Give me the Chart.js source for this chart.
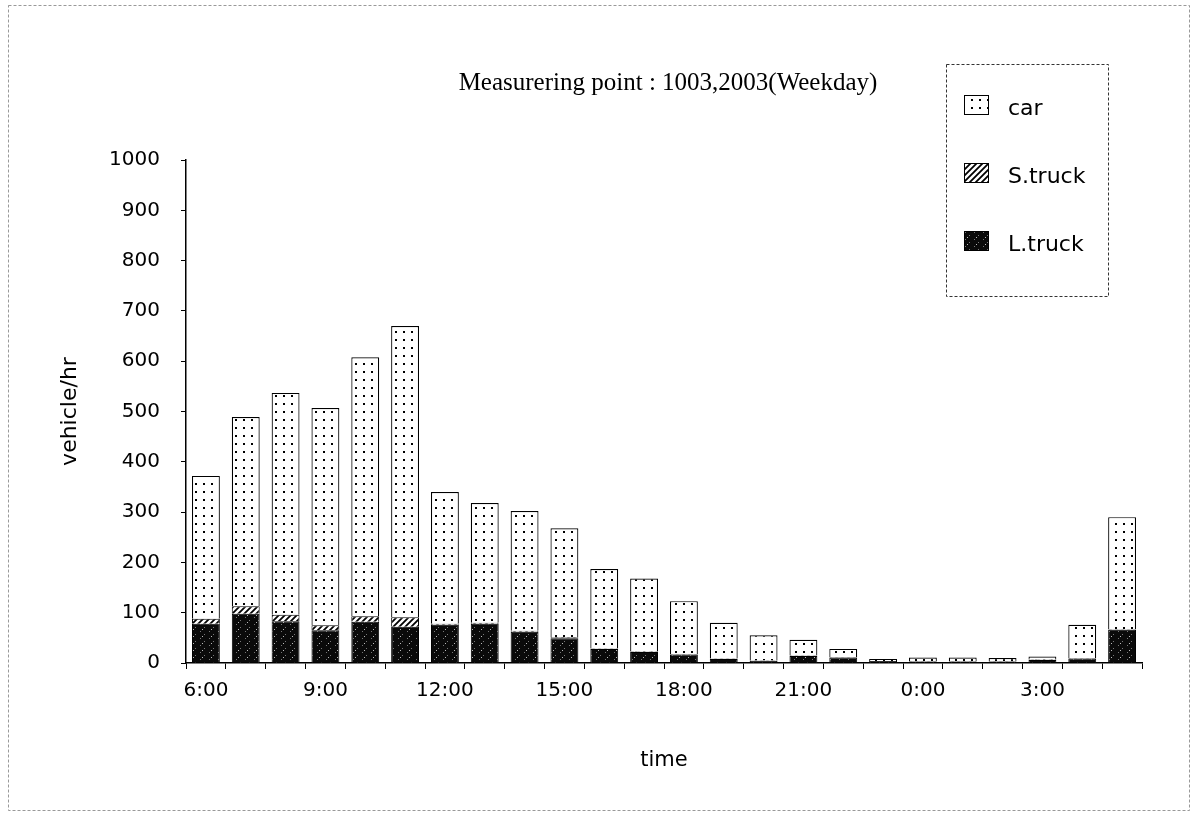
<!DOCTYPE html>
<html><head><meta charset="utf-8">
<script src="https://cdn.jsdelivr.net/npm/chart.js@4.4.0/dist/chart.umd.min.js"></script>
<style>html,body{margin:0;padding:0;background:#fff;overflow:hidden}canvas{display:block}</style>
</head><body><canvas id="c" width="1195" height="817"></canvas>
<script>
// ---- data ----
const hours = ['6:00','7:00','8:00','9:00','10:00','11:00','12:00','13:00','14:00','15:00','16:00','17:00',
               '18:00','19:00','20:00','21:00','22:00','23:00','0:00','1:00','2:00','3:00','4:00','5:00'];
const shownTicks = ['6:00','9:00','12:00','15:00','18:00','21:00','0:00','3:00'];
const lTruck = [78, 98, 83, 65, 82, 72, 76, 78, 62, 49, 28, 22, 17, 8, 4, 14, 11, 4, 3, 3, 3, 6, 9, 66];
const sTruck = [10, 15, 13, 10, 11, 19, 2, 2, 2, 2, 1, 1, 1, 1, 1, 1, 1, 0, 1, 1, 1, 1, 1, 1];
const car    = [284, 376, 441, 432, 515, 579, 262, 238, 238, 217, 158, 145, 105, 71, 50, 31, 16, 4, 7, 7, 6, 6, 66, 223];
const seriesNames = ['car', 'S.truck', 'L.truck'];
const chartTitle = 'Measurering point : 1003,2003(Weekday)';
const yTitle = 'vehicle/hr';
const xTitle = 'time';

// ---- patterns ----
function makeTile(w, h, draw) {
  const c = document.createElement('canvas'); c.width = w; c.height = h;
  const g = c.getContext('2d'); draw(g, w, h);
  return document.createElement('canvas').getContext('2d').createPattern(c, 'repeat');
}
const dotPat = makeTile(8, 8, (g) => { g.fillStyle = '#fff'; g.fillRect(0,0,8,8); g.fillStyle = '#000'; g.fillRect(3,3,2,2); });
const hatchPat = makeTile(6, 6, (g) => {
  g.fillStyle = '#fff'; g.fillRect(0,0,6,6); g.strokeStyle = '#000'; g.lineWidth = 1.8;
  g.beginPath(); g.moveTo(-1,7); g.lineTo(7,-1); g.moveTo(-4,4); g.lineTo(4,-4); g.moveTo(2,10); g.lineTo(10,2); g.stroke();
});
const darkPat = makeTile(9, 7, (g) => {
  g.fillStyle = '#0a0a0a'; g.fillRect(0,0,9,7);
  g.fillStyle = '#777'; g.fillRect(2,1,1,1); g.fillRect(6,4,1,1);
  g.fillStyle = '#bbb'; g.fillRect(4,6,1,1);
});
const fills = [dotPat, hatchPat, darkPat];

const FONT = '"DejaVu Sans", sans-serif';

const decor = {
  id: 'decor',
  beforeDraw(chart) {
    const ctx = chart.ctx;
    ctx.save(); ctx.fillStyle = '#fff'; ctx.fillRect(0, 0, chart.width, chart.height); ctx.restore();
  },
  afterDraw(chart) {
    const ctx = chart.ctx, a = chart.chartArea;
    ctx.save();
    // outer frame
    ctx.strokeStyle = '#999'; ctx.lineWidth = 1; ctx.setLineDash([3, 2]);
    ctx.strokeRect(8.5, 5.5, 1181, 805);
    // title
    ctx.setLineDash([]);
    ctx.fillStyle = '#000'; ctx.font = '25px "Liberation Serif", serif';
    ctx.textAlign = 'center'; ctx.textBaseline = 'middle';
    ctx.fillText(chartTitle, (a.left + a.right) / 2 + 4, 83);
    // legend box
    ctx.strokeStyle = '#333'; ctx.setLineDash([3, 2]);
    ctx.strokeRect(946.5, 64.5, 162, 232);
    ctx.setLineDash([]);
    const ds = chart.data.datasets;
    const order = ['car', 'S.truck', 'L.truck'];
    const ys = [109, 177, 245];
    ctx.font = '22px ' + FONT; ctx.textAlign = 'left';
    order.forEach((name, i) => {
      const d = ds.find(x => x.label === name);
      const y = ys[i];
      ctx.fillStyle = d.backgroundColor;
      ctx.fillRect(964, y - 14, 25, 20);
      ctx.strokeStyle = '#000'; ctx.lineWidth = 1;
      ctx.strokeRect(964.5, y - 13.5, 24, 19);
      ctx.fillStyle = '#000';
      ctx.fillText(name, 1008, y);
    });
    ctx.restore();
  }
};

new Chart(document.getElementById('c'), {
  type: 'bar',
  data: {
    labels: hours,
    datasets: [
      { label: seriesNames[2], data: lTruck, backgroundColor: fills[2], borderColor: '#000', borderWidth: 1 },
      { label: seriesNames[1], data: sTruck, backgroundColor: fills[1], borderColor: '#000', borderWidth: 1 },
      { label: seriesNames[0], data: car, backgroundColor: fills[0], borderColor: '#000', borderWidth: 1.2 }
    ]
  },
  options: {
    responsive: false, animation: false, events: [],
    layout: { padding: { left: 0, right: 53, top: 160, bottom: 0 } },
    datasets: { bar: { categoryPercentage: 1, barPercentage: 0.7 } },
    plugins: { legend: { display: false }, tooltip: { enabled: false }, title: { display: false } },
    scales: {
      x: {
        stacked: true,
        afterFit: (s) => { s.height = 154; },
        grid: { drawOnChartArea: false, drawTicks: true, tickLength: 6, color: '#000', offset: true },
        border: { display: true, color: '#000', width: 1.5 },
        ticks: {
          autoSkip: false, maxRotation: 0, minRotation: 0, padding: 10, color: '#000',
          font: { family: FONT, size: 20 },
          callback: (v, i) => shownTicks.includes(hours[i]) ? hours[i] : ''
        },
        title: { display: true, text: xTitle, color: '#000', font: { family: FONT, size: 21 }, padding: { top: 0, bottom: 44 } }
      },
      y: {
        stacked: true, min: 0, max: 1000,
        afterFit: (s) => { s.width = 186; },
        grid: { drawOnChartArea: false, drawTicks: true, tickLength: 5, color: '#000' },
        border: { display: true, color: '#000', width: 1.5 },
        ticks: { stepSize: 100, padding: 21, color: '#000', font: { family: FONT, size: 20 },
                 callback: (v) => String(v) },
        title: { display: true, text: yTitle, color: '#000', font: { family: FONT, size: 22 }, padding: { top: 57, bottom: 0 } }
      }
    }
  },
  plugins: [decor]
});
</script>
</body></html>
